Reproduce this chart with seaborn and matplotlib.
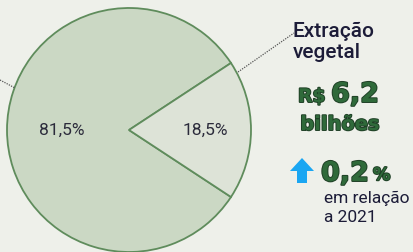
import matplotlib
matplotlib.use("Agg")
import matplotlib.pyplot as plt
import matplotlib.patheffects as pe
from matplotlib.patches import Polygon
import seaborn as sns

# ---- data ----
categories = ["Outros", "Extração vegetal"]
shares = [81.5, 18.5]
slice_colors = ["#cbd8c4", "#dde3d7"]
label_lines = ["Extração", "vegetal"]
currency = "R$"
value_text = "6,2"
value_unit = "bilhões"
change_value = "0,2"
change_note = ["em relação", "a 2021"]

sns.set_theme(style="white")
plt.rcParams['font.family'] = ['Roboto', 'DejaVu Sans']

W, H = 413, 252
fig = plt.figure(figsize=(W / 100, H / 100), dpi=100)
bg = "#eef0ea"
fig.patch.set_facecolor(bg)
ax = fig.add_axes([0, 0, 1, 1])
ax.set_facecolor(bg)

def Y(y):
    return H - y

cx, cy, r = 129, Y(130), 122
start = 360 * shares[1] / 200  # small slice centered on the right
wedges, texts, autotexts = ax.pie(
    shares, colors=slice_colors, startangle=start, counterclock=True,
    center=(cx, cy), radius=r, frame=True,
    autopct=lambda p: f"{p:.1f}%".replace(".", ","), pctdistance=0.6,
    wedgeprops=dict(edgecolor="#5f8c5c", linewidth=1.3),
    textprops=dict(color="#2b2b3b", fontsize=12.5))
autotexts[0].set_position((cx - 67, cy))
autotexts[1].set_position((cx + 76, cy))

ax.set_xlim(0, W)
ax.set_ylim(0, H)
ax.set_aspect("auto")
ax.axis("off")

# leader lines
ax.plot([238, 294], [Y(72), Y(33)], ls=(0, (1, 1)), color="#555555", lw=0.9)
ax.plot([0, 15], [Y(80), Y(88)], ls=(0, (1, 1)), color="#555555", lw=0.9)

navy = "#1c1c38"
green = "#2f6a3a"
outline = [pe.withStroke(linewidth=1.4, foreground="#1f4026")]
heavy = dict(color=green, fontweight="bold", family="DejaVu Sans",
             va="baseline", path_effects=outline)

ax.text(293, Y(37), label_lines[0], fontsize=15, color=navy, fontweight="medium",
        va="baseline", ha="left")
ax.text(293, Y(58), label_lines[1], fontsize=15, color=navy, fontweight="medium",
        va="baseline", ha="left")

ax.text(298, Y(102), currency, fontsize=13.5, ha="left", **heavy)
ax.text(331, Y(102), value_text, fontsize=19.5, ha="left", **heavy)
ax.text(340, Y(130), value_unit, fontsize=14, ha="center", **heavy)

# arrow
arrow = Polygon([(302, Y(158)), (314, Y(171)), (307, Y(171)), (307, Y(183)),
                 (297, Y(183)), (297, Y(171)), (290, Y(171))],
                closed=True, facecolor="#1aa6f2", edgecolor="none")
ax.add_patch(arrow)
ax.text(321, Y(181), change_value, fontsize=19.5, ha="left", **heavy)
ax.text(373, Y(180), "%", fontsize=12.5, ha="left", **heavy)
ax.text(324, Y(203), change_note[0], fontsize=12.5, color=navy,
        ha="left", va="baseline")
ax.text(324, Y(222), change_note[1], fontsize=12.5, color=navy,
        ha="left", va="baseline")

fig.savefig("out.png", dpi=100, facecolor=bg)
